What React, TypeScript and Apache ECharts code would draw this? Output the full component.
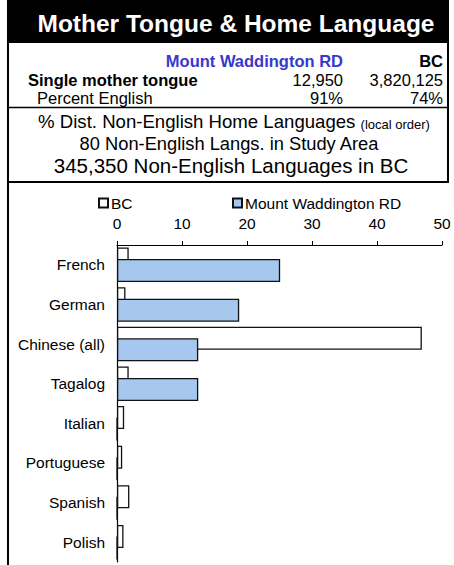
import React, { useEffect, useRef } from 'react';
import * as echarts from 'echarts';

const categories = ['French', 'German', 'Chinese (all)', 'Tagalog', 'Italian', 'Portuguese', 'Spanish', 'Polish'];
const bcValues = [1.8, 1.3, 46.9, 1.8, 1.1, 0.8, 1.9, 1.0];
const mwValues = [25.1, 18.8, 12.5, 12.5, 0, 0, 0, 0];
const seriesNames = ['BC', 'Mount Waddington RD'];

const titleText = 'Mother Tongue & Home Language';
const regionName = 'Mount Waddington RD';
const provinceName = 'BC';
const rowLabels = ['Single mother tongue', 'Percent English'];
const regionStats = ['12,950', '91%'];
const provinceStats = ['3,820,125', '74%'];
const subLines = [
  '% Dist. Non-English Home Languages',
  '(local order)',
  '80 Non-English Langs. in Study Area',
  '345,350 Non-English Languages in BC',
];

const FONT = '"Liberation Sans", Arial, Helvetica, sans-serif';
const BLUE_FILL = '#a6c8ee';

export default function App() {
  const ref = useRef<HTMLDivElement>(null);
  useEffect(() => {
    if (!ref.current) return;
    const chart = echarts.init(ref.current, null, { renderer: 'svg' });
    const txt = (text: string, x: number, y: number, opts: any = {}) => ({
      type: 'text',
      x,
      y,
      silent: true,
      style: {
        text,
        fontFamily: FONT,
        fontSize: 16.5,
        fill: '#000',
        align: 'left',
        verticalAlign: 'middle',
        ...opts,
      },
    });
    chart.setOption({
      animation: false,
      backgroundColor: '#fff',
      textStyle: { fontFamily: FONT },
      graphic: [
        { type: 'rect', shape: { x: 7, y: 0, width: 442, height: 43 }, style: { fill: '#000' }, silent: true },
        txt(titleText, 236, 23, { fill: '#fff', fontSize: 24.5, fontWeight: 'bold', align: 'center' }),
        { type: 'line', shape: { x1: 8, y1: 0, x2: 8, y2: 565 }, style: { stroke: '#000', lineWidth: 2 }, silent: true },
        { type: 'line', shape: { x1: 448, y1: 40, x2: 448, y2: 183 }, style: { stroke: '#000', lineWidth: 2 }, silent: true },
        { type: 'line', shape: { x1: 7, y1: 107.5, x2: 449, y2: 107.5 }, style: { stroke: '#000', lineWidth: 1.5 }, silent: true },
        { type: 'line', shape: { x1: 7, y1: 182, x2: 449, y2: 182 }, style: { stroke: '#000', lineWidth: 2 }, silent: true },
        txt(regionName, 343, 61, { align: 'right', fontWeight: 'bold', fill: '#3838cc' }),
        txt(provinceName, 443, 61, { align: 'right', fontWeight: 'bold' }),
        txt(rowLabels[0], 28, 80, { fontWeight: 'bold' }),
        txt(regionStats[0], 343, 80, { align: 'right' }),
        txt(provinceStats[0], 443, 80, { align: 'right' }),
        txt(rowLabels[1], 37, 98),
        txt(regionStats[1], 343, 98, { align: 'right' }),
        txt(provinceStats[1], 443, 98, { align: 'right' }),
        {
          type: 'text',
          x: 234,
          y: 121,
          silent: true,
          style: {
            text: '{a|' + subLines[0] + ' }{b|' + subLines[1] + '}',
            align: 'center',
            verticalAlign: 'middle',
            fontFamily: FONT,
            rich: {
              a: { fontSize: 18.6, fontFamily: FONT, fill: '#000', verticalAlign: 'bottom' },
              b: { fontSize: 13, fontFamily: FONT, fill: '#000', verticalAlign: 'bottom' },
            },
          },
        },
        txt(subLines[2], 229, 143, { align: 'center', fontSize: 18.3 }),
        txt(subLines[3], 231, 165, { align: 'center', fontSize: 20.5 }),
      ],
      legend: [
        {
          data: [seriesNames[0]],
          left: 98,
          top: 195,
          padding: 0,
          itemWidth: 9,
          itemHeight: 9,
          itemGap: 0,
          icon: 'rect',
          textStyle: { fontSize: 15.5, color: '#000', fontFamily: FONT, padding: [0, 0, 0, -2] },
        },
        {
          data: [seriesNames[1]],
          left: 232,
          top: 195,
          padding: 0,
          itemWidth: 9,
          itemHeight: 9,
          itemGap: 0,
          icon: 'rect',
          textStyle: { fontSize: 15.5, color: '#000', fontFamily: FONT, padding: [0, 0, 0, -2] },
        },
      ],
      grid: { left: 117, right: 12, top: 245, height: 317, containLabel: false },
      xAxis: {
        type: 'value',
        position: 'top',
        min: 0,
        max: 50,
        interval: 10,
        axisLine: { show: true, lineStyle: { color: '#000', width: 1 } },
        axisTick: { show: true, inside: false, length: 4, lineStyle: { color: '#000' } },
        axisLabel: { fontSize: 15.5, color: '#000', margin: 14, fontFamily: FONT },
        splitLine: { show: false },
      },
      yAxis: {
        type: 'category',
        inverse: true,
        data: categories,
        axisLine: { show: true, lineStyle: { color: '#000', width: 1.2 } },
        axisTick: { show: false },
        axisLabel: { fontSize: 15.5, color: '#000', margin: 12, fontFamily: FONT },
      },
      series: [
        {
          name: seriesNames[0],
          type: 'bar',
          data: bcValues,
          barWidth: 23,
          barGap: '-50%',
          itemStyle: { color: '#fff', borderColor: '#111', borderWidth: 1.3 },
          z: 2,
        },
        {
          name: seriesNames[1],
          type: 'bar',
          data: mwValues,
          barWidth: 23,
          barGap: '-50%',
          itemStyle: { color: BLUE_FILL, borderColor: '#111', borderWidth: 1.3 },
          z: 3,
        },
      ],
    });
    return () => chart.dispose();
  }, []);
  return (
    <div
      ref={ref}
      style={{ position: 'absolute', left: 0, top: 0, width: 454, height: 565 }}
    />
  );
}
